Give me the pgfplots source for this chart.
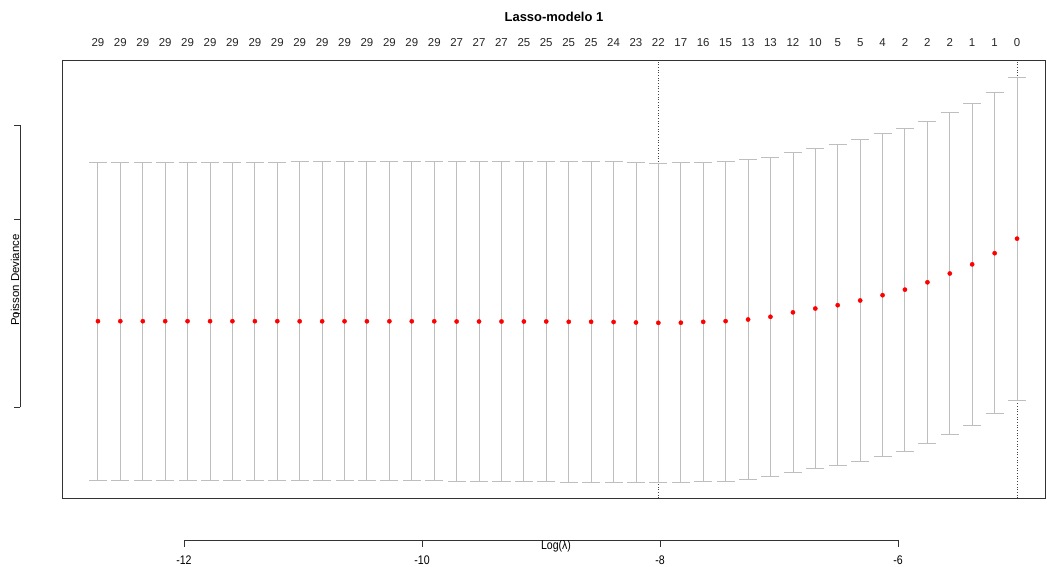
\documentclass[border=0pt]{standalone}
\usepackage{pgfplots}
\pgfplotsset{compat=1.18}
\usepackage{pgfplotstable}
\usepackage{fontspec}
\setmainfont{Liberation Sans}
\definecolor{ebar}{RGB}{190,190,190}
\definecolor{axgray}{RGB}{50,50,50}

\pgfplotstableread{
x y e n
-12.723 1.9128 1.6894 29
-12.535 1.9128 1.6894 29
-12.346 1.9128 1.6894 29
-12.158 1.9128 1.6894 29
-11.970 1.9128 1.6894 29
-11.781 1.9128 1.6894 29
-11.593 1.9128 1.6894 29
-11.404 1.9128 1.6894 29
-11.216 1.9128 1.6894 29
-11.028 1.9117 1.6957 29
-10.839 1.9117 1.6957 29
-10.651 1.9117 1.6957 29
-10.463 1.9117 1.6957 29
-10.274 1.9117 1.6957 29
-10.086 1.9117 1.6957 29
-9.897 1.9117 1.6957 29
-9.709 1.9096 1.7000 27
-9.521 1.9096 1.7000 27
-9.332 1.9096 1.7000 27
-9.144 1.9096 1.7000 25
-8.956 1.9096 1.7000 25
-8.767 1.9064 1.7043 25
-8.579 1.9064 1.7043 25
-8.390 1.9043 1.7053 24
-8.202 1.8989 1.7021 23
-8.014 1.8957 1.6989 22
-7.825 1.8968 1.7000 17
-7.637 1.9059 1.7005 16
-7.449 1.9133 1.7005 15
-7.260 1.9309 1.7000 13
-7.072 1.9596 1.6968 13
-6.883 2.0069 1.6984 12
-6.695 2.0479 1.7000 10
-6.507 2.0830 1.7074 5
-6.318 2.1330 1.7106 5
-6.130 2.1894 1.7181 4
-5.942 2.2484 1.7165 2
-5.753 2.3266 1.7128 2
-5.565 2.4202 1.7106 2
-5.377 2.5176 1.7090 1
-5.188 2.6362 1.7074 1
-5.000 2.7910 1.7165 0
}\cvdata

\begin{document}
\begin{tikzpicture}
\path[use as bounding box] (0,0) rectangle (1047bp,567bp);
\begin{axis}[
  at={(62bp,69bp)}, anchor=south west,
  width=983bp, height=438bp, scale only axis,
  xmin=-13.025, xmax=-4.765, ymin=0.0319, ymax=4.6915,
  axis line style={axgray, line width=0.8pt},
  ytick=\empty,
  xtick={-12.723,-12.535,-12.346,-12.158,-11.970,-11.781,-11.593,-11.404,-11.216,-11.028,-10.839,-10.651,-10.463,-10.274,-10.086,-9.897,-9.709,-9.521,-9.332,-9.144,-8.956,-8.767,-8.579,-8.390,-8.202,-8.014,-7.825,-7.637,-7.449,-7.260,-7.072,-6.883,-6.695,-6.507,-6.318,-6.130,-5.942,-5.753,-5.565,-5.377,-5.188,-5.000},
  xticklabels from table={\cvdata}{n},
  xticklabel pos=upper,
  major tick length=0pt,
  xticklabel shift=13.5bp,
  x tick label style={font=\fontsize{11.5}{12}\selectfont, color=black!85, inner sep=0pt, anchor=base},
  clip=false,
]
\addplot[black!75, dotted, line width=0.7pt] coordinates {(-8.014,0.0319) (-8.014,4.6915)};
\addplot[black!75, dotted, line width=0.7pt] coordinates {(-5.000,0.0319) (-5.000,4.6915)};
\addplot[only marks, mark=*, mark size=2.1bp, color=red,
  error bars/.cd, y dir=both, y explicit,
  error bar style={ebar, line width=0.9pt},
  error mark options={rotate=90, ebar, mark size=9bp, line width=0.9pt}]
  table[x=x, y=y, y error=e] {\cvdata};
% left R-style axis
\draw[axgray, line width=0.8pt] (axis cs:-13.374,1) -- (axis cs:-13.374,4);
\draw[axgray, line width=0.8pt] (axis cs:-13.374,1) -- (axis cs:-13.4286,1)
  (axis cs:-13.374,2) -- (axis cs:-13.4286,2)
  (axis cs:-13.374,3) -- (axis cs:-13.4286,3)
  (axis cs:-13.374,4) -- (axis cs:-13.4286,4);
\node[rotate=90, font=\fontsize{11.5}{12}\selectfont] at (axis cs:-13.420,2.351) {Poisson Deviance};
% bottom R-style axis
\draw[axgray, line width=0.8pt] (axis cs:-12,-0.41489) -- (axis cs:-6,-0.41489);
\draw[axgray, line width=0.8pt] (axis cs:-12,-0.41489) -- (axis cs:-12,-0.48936)
  (axis cs:-10,-0.41489) -- (axis cs:-10,-0.48936)
  (axis cs:-8,-0.41489) -- (axis cs:-8,-0.48936)
  (axis cs:-6,-0.41489) -- (axis cs:-6,-0.48936);
\node[font=\fontsize{12.5}{13}\selectfont, xscale=0.85] at (axis cs:-12,-0.6277) {-12};
\node[font=\fontsize{12.5}{13}\selectfont, xscale=0.85] at (axis cs:-10,-0.6277) {-10};
\node[font=\fontsize{12.5}{13}\selectfont, xscale=0.85] at (axis cs:-8,-0.6277) {-8};
\node[font=\fontsize{12.5}{13}\selectfont, xscale=0.85] at (axis cs:-6,-0.6277) {-6};
\node[font=\fontsize{12.5}{13}\selectfont, xscale=0.85] at (axis cs:-8.874,-0.4787) {Log(λ)};
\node[font=\bfseries\fontsize{13}{14}\selectfont] at (axis cs:-8.891,5.149) {Lasso-modelo 1};
\end{axis}
\end{tikzpicture}
\end{document}
